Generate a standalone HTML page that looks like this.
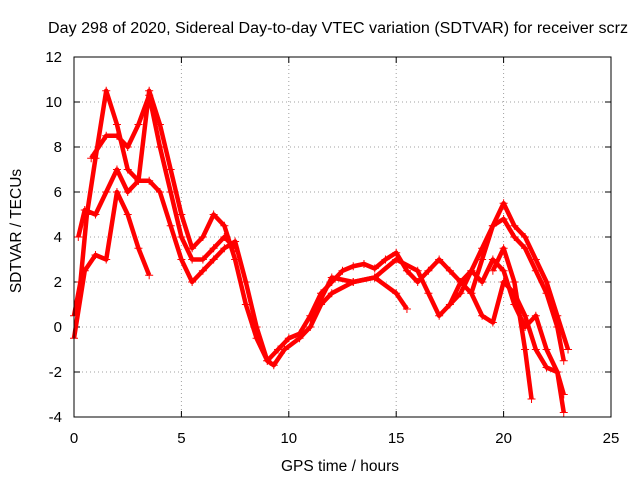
<!DOCTYPE html>
<html><head><meta charset="utf-8"><style>
body{margin:0;background:#fff;}
svg{display:block;font-family:"Liberation Sans",sans-serif;}
</style></head><body>
<svg id="chart" width="640" height="480">
<text x="48" y="33" font-size="15.5" textLength="580" lengthAdjust="spacingAndGlyphs">Day 298 of 2020, Sidereal Day-to-day VTEC variation (SDTVAR) for receiver scrz</text>
<text x="340" y="471" font-size="15.5" text-anchor="middle">GPS time / hours</text>
<text x="21" y="231" font-size="15.5" text-anchor="middle" transform="rotate(-90 21 231)">SDTVAR / TECUs</text>
<g id="grid"></g><g id="axes"></g><g id="marks"></g>
<rect x="74" y="57" width="537" height="360" fill="none" stroke="#000" stroke-width="1"/>
</svg>
<script>
const xTicks=[0,5,10,15,20,25];
const yTicks=[-4,-2,0,2,4,6,8,10,12];
const traceA=[[0,0.5],[0.3,2],[0.6,5],[1,7.5],[1.5,10.5],[2,9],[2.5,7],[3,6.5],[3.5,10.5],[4,9],[4.5,7],[5,5],[5.5,3.5],[6,4],[6.5,5],[7,4.5],[7.5,3],[8,1],[8.5,-0.5],[9,-1.5],[9.5,-1],[10,-0.5],[10.5,-0.3],[11,0.5],[11.5,1.5],[12,2],[12.5,2.5],[13,2.7],[13.5,2.8],[14,2.6],[14.5,3],[15,3.3],[15.5,2.5],[16,2],[16.5,2.5],[17,3],[17.5,2.5],[18,2],[18.5,2.5],[19,3.5],[19.5,4.5],[20,5.5],[20.5,4.5],[21,4],[21.5,3],[22,2],[22.5,0.5],[23,-1]];
const traceB=[[0,-0.5],[0.5,2.5],[1,3.2],[1.5,3],[2,6],[2.5,5],[3,3.5],[3.5,2.3]];
const traceC=[[0.2,4],[0.5,5.2],[1,5],[1.5,6],[2,7],[2.5,6],[3,6.5],[3.5,6.5],[4,6],[4.5,4.5],[5,3],[5.5,2],[6,2.5],[6.5,3],[7,3.5],[7.5,3.8],[8,2],[8.5,0],[9,-1.5],[9.3,-1.7],[9.8,-1],[10.5,-0.5],[11,0],[11.5,1],[12,1.5],[13,2],[14,2.2],[15,1.5],[15.5,0.8]];
const traceD=[[0.8,7.5],[1.5,8.5],[2,8.5],[2.5,8],[3,9],[3.5,10.3],[4,8],[4.5,6],[5,4],[5.5,3],[6,3],[6.5,3.5],[7,4],[7.5,3.5]];
const traceE=[[11,0.3],[12,2.2],[13,2],[14,2.2],[15,3],[16,2.5],[16.5,1.5],[17,0.5],[18,1.5],[18.5,2.5],[19,2],[19.5,3],[20,2.5],[20.5,1],[21,0],[21.5,0.5],[22,-1],[22.5,-2],[22.8,-3.8]];
const traceF=[[18.5,1.5],[19,3],[19.5,4.5],[20,4.8],[20.5,4],[21,3.5],[21.5,2.5],[22,1.5],[22.5,0],[22.8,-1.5]];
const traceG=[[19.5,2.5],[20,3.5],[20.5,2],[21,-1],[21.3,-3.2]];
const traceH=[[17.5,1],[18,2],[18.5,1.5],[19,0.5],[19.5,0.2],[20,2],[20.5,1.5],[21,0.5],[21.5,-1],[22,-1.8],[22.5,-2],[22.8,-3]];
const traces=[traceA,traceB,traceC,traceD,traceE,traceF,traceG,traceH];
const X0=74,X1=611,Y0=417,Y1=57;
const sx=v=>X0+(v-0)/(25-0)*(X1-X0);
const sy=v=>Y0-(v+4)/(12+4)*(Y0-Y1);
const NS="http://www.w3.org/2000/svg";
const grid=document.getElementById('grid'),axes=document.getElementById('axes'),marks=document.getElementById('marks');
function mk(tag,attrs,parent){const e=document.createElementNS(NS,tag);for(const k in attrs)e.setAttribute(k,attrs[k]);parent.appendChild(e);return e;}
xTicks.forEach(t=>{
  const x=sx(t);
  if(t>0&&t<25){const g=mk('line',{x1:x,x2:x,y1:Y1,y2:Y0,stroke:'#a0a0a0','stroke-dasharray':'1,3'},grid);
  
  }
  mk('line',{x1:x,x2:x,y1:Y0,y2:Y0-6,stroke:'#000'},axes);
  mk('line',{x1:x,x2:x,y1:Y1,y2:Y1+6,stroke:'#000'},axes);
  const l=mk('text',{x:x,y:Y0+26,'font-size':15,'text-anchor':'middle'},axes);l.textContent=t;
  
  
});
yTicks.forEach(t=>{
  const y=sy(t);
  if(t>-4&&t<12){const g=mk('line',{x1:X0,x2:X1,y1:y,y2:y,stroke:'#a0a0a0','stroke-dasharray':'1,3'},grid);
  
  }
  mk('line',{x1:X0,x2:X0+6,y1:y,y2:y,stroke:'#000'},axes);
  mk('line',{x1:X1,x2:X1-6,y1:y,y2:y,stroke:'#000'},axes);
  const l=mk('text',{x:X0-12,y:y+5,'font-size':15,'text-anchor':'end'},axes);l.textContent=t;
  
  
});
traces.forEach((tr,i)=>{
  const g=mk('g',{},marks);
  
  
  mk('polyline',{points:tr.map(p=>sx(p[0])+','+sy(p[1])).join(' '),fill:'none',stroke:'#f00','stroke-width':4.5,'stroke-linejoin':'round'},g);
  tr.forEach(p=>{const x=sx(p[0]),y=sy(p[1]);
    mk('path',{d:`M${x-4},${y}h8M${x},${y-4}v8`,stroke:'#f00','stroke-width':1},g);});
});
</script>
</body></html>
